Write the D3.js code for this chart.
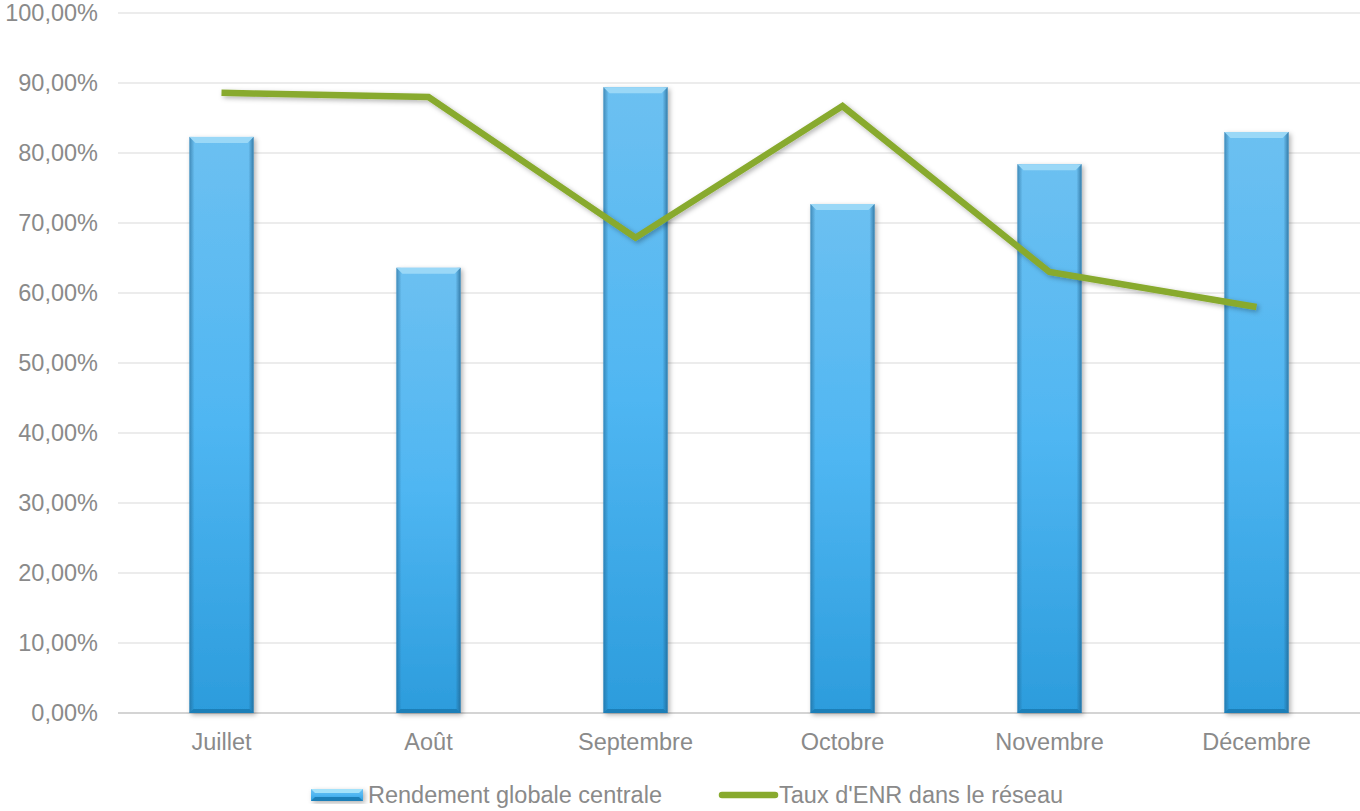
<!DOCTYPE html>
<html>
<head>
<meta charset="utf-8">
<script src="https://cdn.jsdelivr.net/npm/d3@7"></script>
<style>
  body { margin: 0; background: #fff; }
  text { font-family: "Liberation Sans", Arial, sans-serif; fill: #8a8a8a; }
</style>
</head>
<body>
<script>
const MONTHS = ['Juillet', 'Août', 'Septembre', 'Octobre', 'Novembre', 'Décembre']
const RENDEMENT = [82.3, 63.6, 89.4, 72.7, 78.4, 83.0]
const TAUX_ENR = [88.6, 88.0, 67.9, 86.7, 63.0, 58.0]
const Y_TICKS = [0, 10, 20, 30, 40, 50, 60, 70, 80, 90, 100]
const SERIES = ['Rendement globale centrale', "Taux d'ENR dans le réseau"]

const WIDTH = 1360
const HEIGHT = 811
const margin = { top: 13, right: 0, bottom: 98, left: 118 }
const FONT = '23.5px'

const svg = d3.select('body').append('svg')
  .attr('width', WIDTH)
  .attr('height', HEIGHT)

const defs = svg.append('defs')

// degradé vertical des barres
const grad = defs.append('linearGradient')
  .attr('id', 'barGrad').attr('x1', 0).attr('y1', 0).attr('x2', 0).attr('y2', 1)
grad.append('stop').attr('offset', '0%').attr('stop-color', '#6cc0f1')
grad.append('stop').attr('offset', '50%').attr('stop-color', '#4fb6f2')
grad.append('stop').attr('offset', '100%').attr('stop-color', '#2c9cdc')

const side = defs.append('linearGradient')
  .attr('id', 'sideGrad').attr('x1', 0).attr('y1', 0).attr('x2', 1).attr('y2', 0)
side.append('stop').attr('offset', '0%').attr('stop-color', '#1f5f8a').attr('stop-opacity', 0.55)
side.append('stop').attr('offset', '8%').attr('stop-color', '#1f5f8a').attr('stop-opacity', 0)
side.append('stop').attr('offset', '92%').attr('stop-color', '#1f5f8a').attr('stop-opacity', 0)
side.append('stop').attr('offset', '100%').attr('stop-color', '#1f5f8a').attr('stop-opacity', 0.7)

const shadow = defs.append('filter').attr('id', 'shadow')
  .attr('x', '-20%').attr('y', '-20%').attr('width', '140%').attr('height', '140%')
shadow.append('feDropShadow').attr('dx', 2).attr('dy', 2).attr('stdDeviation', 2.5)
  .attr('flood-color', '#000').attr('flood-opacity', 0.3)

const x = d3.scaleBand()
  .domain(MONTHS)
  .range([margin.left, WIDTH - margin.right])
  .paddingInner(0.69).paddingOuter(0.345)

const y = d3.scaleLinear()
  .domain([0, 100])
  .range([HEIGHT - margin.bottom, margin.top])

// grille
svg.append('g').selectAll('line')
  .data(Y_TICKS)
  .enter().append('line')
  .attr('x1', margin.left).attr('x2', WIDTH - margin.right)
  .attr('y1', d => y(d)).attr('y2', d => y(d))
  .attr('stroke', d => d === 0 ? '#d4d4d4' : '#e6e6e6')
  .attr('stroke-width', d => d === 0 ? 2 : 1.5)

// axe Y
const yAxis = svg.append('g')
  .attr('transform', `translate(${margin.left - 20},0)`)
  .call(d3.axisLeft(y).tickValues(Y_TICKS).tickSize(0).tickPadding(0)
    .tickFormat(d => d3.format('.2f')(d).replace('.', ',') + '%'))
yAxis.select('.domain').remove()
yAxis.selectAll('text').style('font-size', FONT).attr('fill', '#8a8a8a')

// axe X
const xAxis = svg.append('g')
  .attr('transform', `translate(0,${y(0)})`)
  .call(d3.axisBottom(x).tickSize(0).tickPadding(20))
xAxis.select('.domain').remove()
xAxis.selectAll('text').style('font-size', FONT).attr('fill', '#8a8a8a')

// barres
const bars = svg.append('g').selectAll('g')
  .data(RENDEMENT)
  .enter().append('g')
  .attr('filter', 'url(#shadow)')

bars.append('rect')
  .attr('x', (d, i) => x(MONTHS[i]))
  .attr('y', d => y(d))
  .attr('width', x.bandwidth())
  .attr('height', d => y(0) - y(d))
  .attr('fill', 'url(#barGrad)')

bars.append('rect')
  .attr('x', (d, i) => x(MONTHS[i]))
  .attr('y', d => y(d))
  .attr('width', x.bandwidth())
  .attr('height', d => y(0) - y(d))
  .attr('fill', 'url(#sideGrad)')

// biseau du haut
bars.append('path')
  .attr('d', (d, i) => {
    const x0 = x(MONTHS[i]), x1 = x0 + x.bandwidth(), t = y(d), b = 6
    return `M${x0},${t}L${x1},${t}L${x1 - b},${t + b}L${x0 + b},${t + b}Z`
  })
  .attr('fill', '#9ad8f7')

// bas plus sombre
bars.append('path')
  .attr('d', (d, i) => {
    const x0 = x(MONTHS[i]), x1 = x0 + x.bandwidth(), bt = y(0), b = 4
    return `M${x0},${bt}L${x1},${bt}L${x1 - b},${bt - b}L${x0 + b},${bt - b}Z`
  })
  .attr('fill', '#1d7fb8')

// ligne
const line = d3.line()
  .x((d, i) => x(MONTHS[i]) + x.bandwidth() / 2)
  .y(d => y(d))

svg.append('path')
  .datum(TAUX_ENR)
  .attr('d', line)
  .attr('fill', 'none')
  .attr('stroke', '#88aa2e')
  .attr('stroke-width', 6.5)
  .attr('stroke-linejoin', 'miter')
  .attr('filter', 'url(#shadow)')

// légende
const legend = svg.append('g').attr('transform', 'translate(0,795)')

const lb = legend.append('g').attr('filter', 'url(#shadow)')
lb.append('rect').attr('x', 311).attr('y', -6).attr('width', 52).attr('height', 12).attr('fill', 'url(#barGrad)')
lb.append('path').attr('d', 'M311,-6L363,-6L359,-2L315,-2Z').attr('fill', '#a4e2fa')
lb.append('path').attr('d', 'M311,6L363,6L359,2L315,2Z').attr('fill', '#1d7fb8')

legend.append('text')
  .attr('x', 368).attr('y', 0).attr('dy', '0.35em')
  .style('font-size', FONT).attr('fill', '#8a8a8a')
  .text(SERIES[0])

legend.append('line')
  .attr('x1', 722).attr('x2', 775).attr('y1', 0).attr('y2', 0)
  .attr('stroke', '#88aa2e').attr('stroke-width', 6.5).attr('stroke-linecap', 'round')

legend.append('text')
  .attr('x', 779).attr('y', 0).attr('dy', '0.35em')
  .style('font-size', FONT).attr('fill', '#8a8a8a')
  .text(SERIES[1])
</script>
</body>
</html>
